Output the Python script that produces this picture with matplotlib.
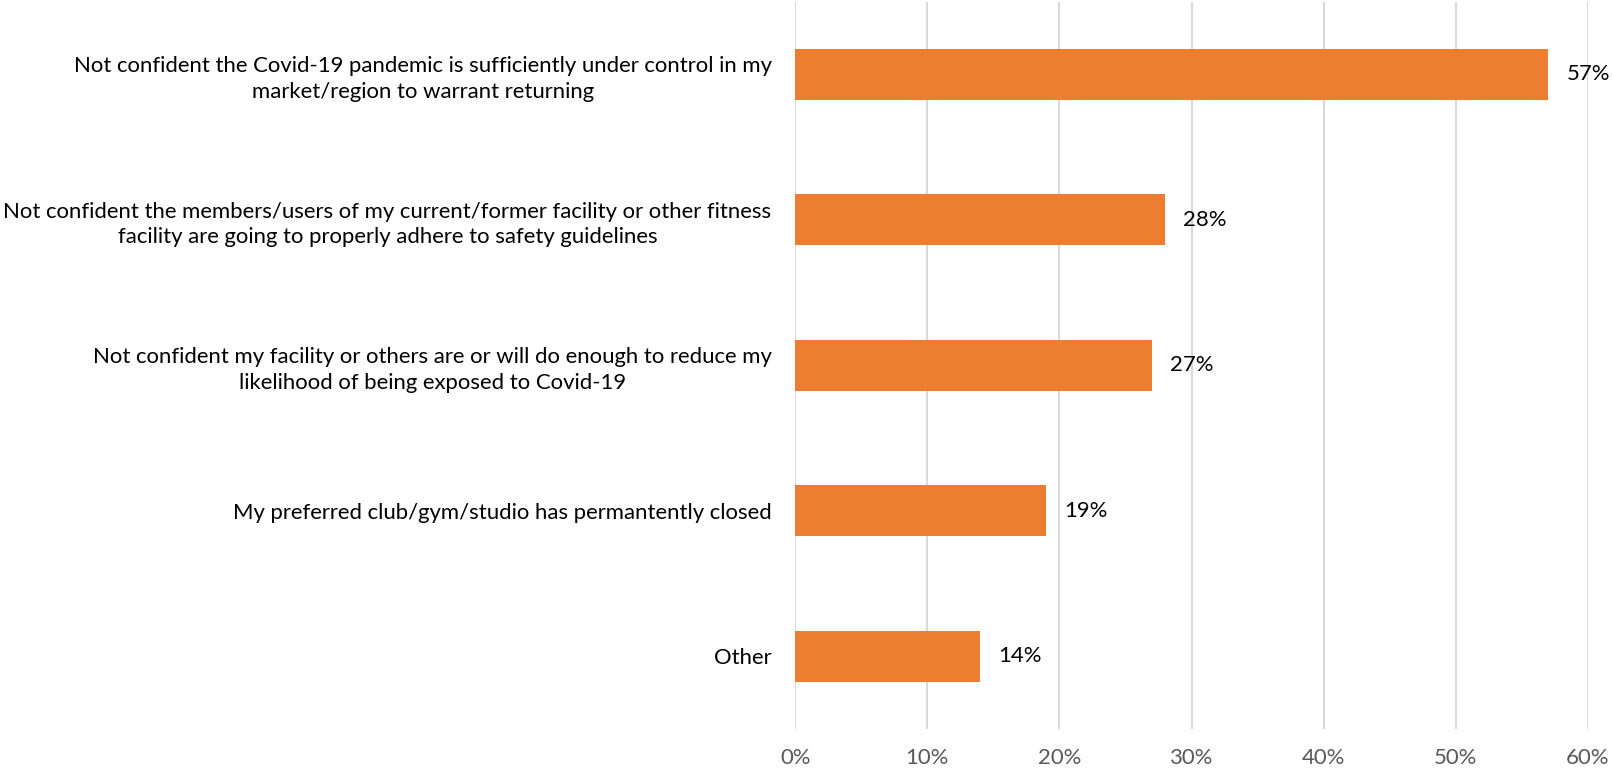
import matplotlib
matplotlib.use("Agg")
import matplotlib.pyplot as plt
from matplotlib.ticker import PercentFormatter

plt.rcParams['font.family'] = ['Lato', 'DejaVu Sans']

categories = [
    "Not confident the Covid-19 pandemic is sufficiently under control in my\nmarket/region to warrant returning",
    "Not confident the members/users of my current/former facility or other fitness\nfacility are going to properly adhere to safety guidelines",
    "Not confident my facility or others are or will do enough to reduce my\nlikelihood of being exposed to Covid-19",
    "My preferred club/gym/studio has permantently closed",
    "Other",
]
values = [57, 28, 27, 19, 14]
x_ticks = [0, 10, 20, 30, 40, 50, 60]

BAR_COLOR = "#ED7D31"
GRID_COLOR = "#D9D9D9"
TICK_COLOR = "#595959"
FS = 15.9

fig = plt.figure(figsize=(16.13, 7.70), dpi=100)
ax = fig.add_axes([0.493, 0.0532, 0.4915, 0.9445])

pos = list(range(len(categories)))
bars = ax.barh(pos, values, height=0.35, color=BAR_COLOR, zorder=3)

ax.set_ylim(len(categories) - 0.5, -0.5)
ax.set_xlim(0, 60)
ax.set_xticks(x_ticks)
ax.xaxis.set_major_formatter(PercentFormatter(decimals=0))
ax.set_yticks(pos)
ax.set_yticklabels(categories, fontsize=FS, color="black", multialignment="center",
                   linespacing=1.34)
ax.tick_params(axis="y", length=0, pad=17)
ax.tick_params(axis="x", length=0, pad=14, labelsize=FS, labelcolor=TICK_COLOR)

ax.grid(axis="x", color=GRID_COLOR, linewidth=1.5, zorder=0)
for s in ax.spines.values():
    s.set_visible(False)

for b, v in zip(bars, values):
    ax.annotate(f"{v}%", xy=(v, b.get_y() + b.get_height() / 2),
                xytext=(13, 0), textcoords="offset points",
                ha="left", va="center", fontsize=FS, color="black")

fig.savefig("out.png", dpi=100, facecolor="white")
